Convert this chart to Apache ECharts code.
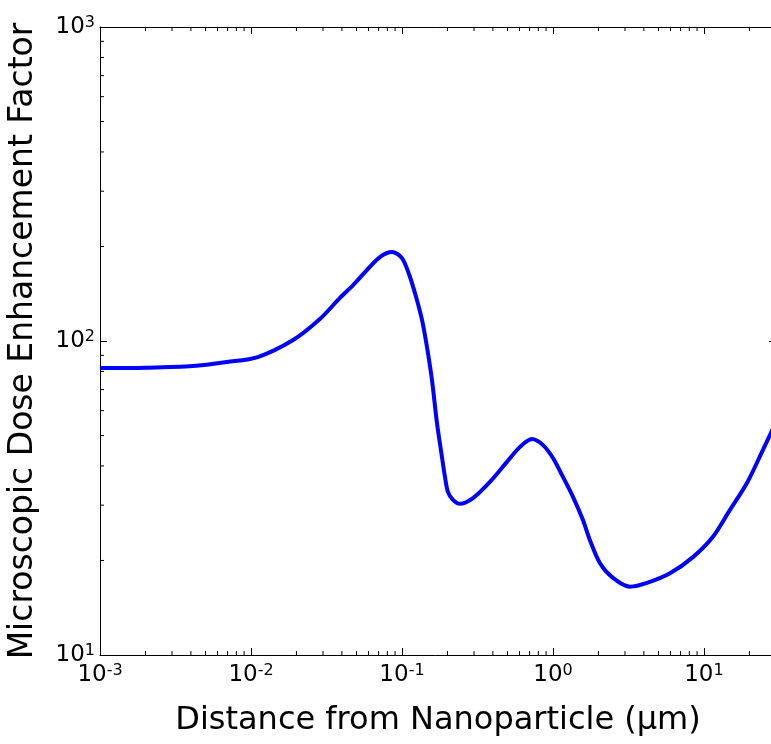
<!DOCTYPE html>
<html>
<head>
<meta charset="utf-8">
<script src="https://cdn.jsdelivr.net/npm/echarts@6/dist/echarts.min.js"></script>
<style>
  html, body { margin: 0; padding: 0; background: #ffffff; }
  #chart { width: 771px; height: 744px; }
</style>
</head>
<body>
<div id="chart"></div>
<script>
// Distance from the nanoparticle surface (µm)
const distance = [0.001, 0.002, 0.00413, 0.00694, 0.0111, 0.019, 0.0286, 0.0388, 0.0475, 0.0586,
  0.0714, 0.0859, 0.1, 0.113, 0.1256, 0.1357, 0.1464, 0.158, 0.1705, 0.184,
  0.1927, 0.2017, 0.2177, 0.2421, 0.2953, 0.3826, 0.4958, 0.6047, 0.7259, 0.8587,
  1.0, 1.165, 1.357, 1.58, 1.758, 2.048, 2.497, 3.236, 4.194, 5.954,
  8.455, 11.47, 14.87, 19.27, 24.59, 27.36, 30];

// Microscopic dose enhancement factor at each distance
const enhancement = [82.0, 82.2, 83.2, 85.7, 88.9, 100.7, 117.5, 137.1, 150.7, 168.3,
  185.1, 192.0, 183.7, 159.9, 135.1, 116.7, 95.7, 75.1, 54.8, 42.7,
  36.9, 33.0, 31.2, 30.3, 31.6, 35.6, 41.2, 46.0, 48.7, 46.6,
  42.4, 36.9, 31.9, 26.9, 23.2, 19.6, 17.6, 16.5, 16.96, 18.2,
  20.5, 23.8, 29.0, 35.3, 45.0, 50.2, 55.2];

// Axis ranges and minor (non-decade) tick positions
const xRange = [0.001, 30];
const yRange = [10, 1000];
const xMinorTicks = [0.002, 0.003, 0.004, 0.005, 0.006, 0.007, 0.008, 0.009,
  0.02, 0.03, 0.04, 0.05, 0.06, 0.07, 0.08, 0.09,
  0.2, 0.3, 0.4, 0.5, 0.6, 0.7, 0.8, 0.9,
  2, 3, 4, 5, 6, 7, 8, 9,
  20];
const yMinorTicks = [20, 30, 40, 50, 60, 70, 80, 90,
  200, 300, 400, 500, 600, 700, 800, 900];

const xTitle = 'Distance from Nanoparticle (\u03bcm)';
const yTitle = 'Microscopic Dose Enhancement Factor';

const FONT = 'DejaVu Sans';
const MINOR_LEN = 4;

function powerLabel(v) {
  const e = Math.log10(v);
  const r = Math.round(e);
  if (Math.abs(e - r) > 1e-6) return '';
  return '{b|10}{s|' + r + '}';
}

const richPow = {
  b: { fontFamily: FONT, fontSize: 23, lineHeight: 24, color: '#000', padding: [11, 0, 11, 0] },
  s: { fontFamily: FONT, fontSize: 16, lineHeight: 16, color: '#000', verticalAlign: 'top' }
};

const axisCommon = {
  type: 'log',
  logBase: 10,
  axisLine: { show: true, onZero: false, lineStyle: { color: '#000', width: 1 } },
  axisTick: { show: true, inside: true, length: 7, lineStyle: { color: '#000', width: 1 } },
  splitLine: { show: false },
  minorTick: { show: false },
  minorSplitLine: { show: false }
};

const chart = echarts.init(document.getElementById('chart'), null, { renderer: 'canvas' });

chart.setOption({
  backgroundColor: '#ffffff',
  animation: false,
  grid: { left: 100, top: 27, width: 676, bottom: 89, containLabel: false, outerBoundsMode: 'none' },
  xAxis: [
    Object.assign({}, axisCommon, {
      position: 'bottom',
      min: xRange[0], max: xRange[1],
      name: xTitle,
      nameLocation: 'middle',
      nameGap: 50,
      nameTextStyle: { fontFamily: FONT, fontSize: 32, color: '#000' },
      axisLabel: { show: true, margin: 8, formatter: powerLabel, rich: richPow, hideOverlap: false }
    }),
    Object.assign({}, axisCommon, {
      position: 'top',
      min: xRange[0], max: xRange[1],
      axisLabel: { show: false }
    })
  ],
  yAxis: [
    Object.assign({}, axisCommon, {
      position: 'left',
      min: yRange[0], max: yRange[1],
      name: yTitle,
      nameLocation: 'middle',
      nameGap: 60,
      nameRotate: 90,
      nameTextStyle: { fontFamily: FONT, fontSize: 33, color: '#000' },
      axisLabel: { show: true, margin: 5, formatter: powerLabel, rich: richPow }
    }),
    Object.assign({}, axisCommon, {
      position: 'right',
      min: yRange[0], max: yRange[1],
      axisLabel: { show: false }
    })
  ],
  series: [
    {
      // minor ticks along bottom and top edges
      type: 'custom',
      xAxisIndex: 0, yAxisIndex: 0,
      silent: true,
      clip: false,
      data: xMinorTicks.map(v => [v, yRange[0]]),
      renderItem: function (params, api) {
        const b = api.coord([api.value(0), yRange[0]]);
        const t = api.coord([api.value(0), yRange[1]]);
        const st = { stroke: '#000', lineWidth: 1 };
        return {
          type: 'group',
          children: [
            { type: 'line', shape: { x1: b[0], y1: b[1], x2: b[0], y2: b[1] - MINOR_LEN }, style: st },
            { type: 'line', shape: { x1: t[0], y1: t[1], x2: t[0], y2: t[1] + MINOR_LEN }, style: st }
          ]
        };
      }
    },
    {
      // minor ticks along left and right edges
      type: 'custom',
      xAxisIndex: 0, yAxisIndex: 0,
      silent: true,
      clip: false,
      data: yMinorTicks.map(v => [xRange[0], v]),
      renderItem: function (params, api) {
        const l = api.coord([xRange[0], api.value(1)]);
        const r = api.coord([xRange[1], api.value(1)]);
        const st = { stroke: '#000', lineWidth: 1 };
        return {
          type: 'group',
          children: [
            { type: 'line', shape: { x1: l[0], y1: l[1], x2: l[0] + MINOR_LEN, y2: l[1] }, style: st },
            { type: 'line', shape: { x1: r[0], y1: r[1], x2: r[0] - MINOR_LEN, y2: r[1] }, style: st }
          ]
        };
      }
    },
    {
      type: 'line',
      xAxisIndex: 0, yAxisIndex: 0,
      data: distance.map((d, i) => [d, enhancement[i]]),
      showSymbol: false,
      symbol: 'none',
      smooth: 0.3,
      clip: true,
      lineStyle: { color: '#0000ff', width: 4 }
    }
  ]
});
</script>
</body>
</html>
